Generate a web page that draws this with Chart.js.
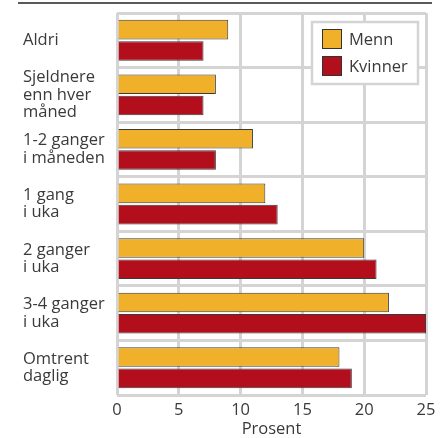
<!DOCTYPE html>
<html lang="no">
<head>
<meta charset="UTF-8">
<title>Prosent</title>
<script src="https://cdn.jsdelivr.net/npm/chart.js"></script>
<style>
  html, body { margin: 0; padding: 0; background: #fff; }
  #wrap { width: 448px; height: 438px; position: relative; }
</style>
</head>
<body>
<div id="wrap"><canvas id="chart"></canvas></div>
<script>
    const kategorier = [
        ["Aldri"],
        ["Sjeldnere", "enn hver", "måned"],
        ["1-2 ganger", "i måneden"],
        ["1 gang", "i uka"],
        ["2 ganger", "i uka"],
        ["3-4 ganger", "i uka"],
        ["Omtrent", "daglig"]
    ];
    const menn = [9, 8, 11, 12, 20, 22, 18];
    const kvinner = [7, 7, 8, 13, 21, 25, 19];
    const xTicks = [0, 5, 10, 15, 20, 25];

    const fontFam = "'Open Sans', 'DejaVu Sans', sans-serif";
    const textColor = '#3a3a3a';
    const gridColor = '#d4d4d4';

    // top rule + legend box drawn inside the plot
    const extras = {
        id: 'extras',
        afterDraw(chart) {
            const ctx = chart.ctx;
            ctx.save();
            ctx.strokeStyle = '#222';
            ctx.lineWidth = 1.5;
            ctx.beginPath();
            ctx.moveTo(18, 3);
            ctx.lineTo(432, 3);
            ctx.stroke();

            // legend
            const bx = 312, by = 22, bw = 106, bh = 62;
            ctx.fillStyle = '#fff';
            ctx.fillRect(bx, by, bw, bh);
            ctx.strokeStyle = gridColor;
            ctx.lineWidth = 2.5;
            ctx.strokeRect(bx, by, bw, bh);
            ctx.font = '16.5px ' + fontFam;
            ctx.textBaseline = 'middle';
            chart.data.datasets.forEach((ds, i) => {
                const y = by + 7 + i * 27;
                ctx.fillStyle = ds.backgroundColor;
                ctx.fillRect(bx + 10, y, 20, 20);
                ctx.strokeStyle = '#333';
                ctx.lineWidth = 1;
                ctx.strokeRect(bx + 10.5, y + 0.5, 19, 19);
                ctx.fillStyle = textColor;
                ctx.fillText(ds.label, bx + 37, y + 11);
            });
            ctx.restore();
        }
    };

    new Chart(document.getElementById('chart'), {
        type: 'bar',
        data: {
            labels: kategorier,
            datasets: [
                {
                    label: 'Menn',
                    data: menn,
                    backgroundColor: '#f0b02a',
                    borderColor: '#3a3a3a',
                    borderWidth: 1,
                    categoryPercentage: 0.78,
                    barPercentage: 0.92
                },
                {
                    label: 'Kvinner',
                    data: kvinner,
                    backgroundColor: '#b30e1c',
                    borderColor: '#3a3a3a',
                    borderWidth: 1,
                    categoryPercentage: 0.78,
                    barPercentage: 0.92
                }
            ]
        },
        options: {
            indexAxis: 'y',
            responsive: true,
            maintainAspectRatio: false,
            animation: false,
            layout: { padding: { left: 23, right: 22, top: 13, bottom: 0 } },
            plugins: {
                legend: { display: false },
                tooltip: { enabled: false }
            },
            scales: {
                x: {
                    min: 0,
                    max: 25,
                    afterBuildTicks: (scale) => { scale.ticks = xTicks.map(v => ({ value: v })); },
                    afterFit: (scale) => { scale.height = 43; },
                    grid: { color: gridColor, lineWidth: 3, drawTicks: false },
                    border: { display: false },
                    ticks: { color: textColor, padding: 5, font: { family: fontFam, size: 16.5 } },
                    title: {
                        display: true,
                        text: 'Prosent',
                        color: textColor,
                        padding: { top: -4, bottom: 0 },
                        font: { family: fontFam, size: 16.5, lineHeight: 1.0 }
                    }
                },
                y: {
                    grid: { color: gridColor, lineWidth: 3, drawTicks: false },
                    border: { display: false },
                    afterFit: (scale) => {
                        scale.width = 94;
                        scale.paddingTop = 0;
                        scale.paddingBottom = 0;
                    },
                    ticks: {
                        color: textColor,
                        crossAlign: 'far',
                        padding: 0,
                        autoSkip: false,
                        font: { family: fontFam, size: 16.5, lineHeight: 1.05 }
                    }
                }
            }
        },
        plugins: [extras]
    });
</script>
</body>
</html>
